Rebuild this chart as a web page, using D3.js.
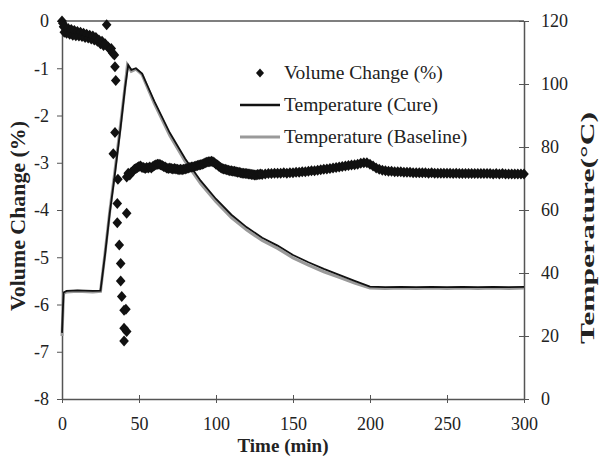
<!DOCTYPE html>
<html>
<head>
<meta charset="utf-8">
<script src="https://cdn.jsdelivr.net/npm/d3@7"></script>
<style>
body { margin: 0; background: #fff; }
text { font-family: "Liberation Serif", "Times New Roman", serif; fill: #222; }
</style>
</head>
<body>
<div id="canvas"></div>
<script>
"use strict"

let svgWidth = 599
let svgHeight = 457
let plotLeft = 62
let plotRight = 524
let plotTop = 21
let plotBottom = 399

/* tick labels */
let timeTicks = [0, 50, 100, 150, 200, 250, 300]
let volumeTicks = [0, -1, -2, -3, -4, -5, -6, -7, -8]
let tempTicks = [0, 20, 40, 60, 80, 100, 120]

/* temperature, cure run [time (min), °C] */
let tempCure = [
    [0, 21], [1, 33.8], [3, 34.3], [10, 34.5], [20, 34.3], [25, 34.4],
    [28, 46], [31, 59], [34, 70], [38, 86], [41, 99], [43, 106],
    [45, 104.5], [48, 105], [52, 103.3], [55, 100], [60, 94.5], [70, 84.5],
    [80, 76.3], [90, 69.3], [100, 63.5], [110, 58.5], [120, 54.5], [130, 51.2],
    [140, 48.7], [150, 45.7], [160, 43.4], [170, 41.3], [180, 39.4], [190, 37.5],
    [200, 35.7], [210, 35.5], [220, 35.6], [230, 35.5], [240, 35.6], [250, 35.5],
    [260, 35.6], [270, 35.5], [280, 35.6], [290, 35.5], [300, 35.6]
]

/* temperature, baseline run [time (min), °C] */
let tempBaseline = [
    [0, 20], [1, 33.5], [3, 34], [10, 34.2], [20, 34], [25, 34.2],
    [28, 46.5], [31, 59.5], [34, 71], [38, 87], [41, 99.5], [42.5, 106],
    [45, 104], [48, 104.7], [52, 103], [55, 99.5], [60, 93.8], [70, 83.6],
    [80, 75.4], [90, 68.4], [100, 62.6], [110, 57.6], [120, 53.6], [130, 50.3],
    [140, 47.8], [150, 44.8], [160, 42.5], [170, 40.4], [180, 38.6], [190, 36.8],
    [200, 35.2], [210, 35.1], [220, 35.2], [230, 35.1], [240, 35.2], [250, 35.1],
    [260, 35.2], [270, 35.1], [280, 35.2], [290, 35.1], [300, 35.2]
]

/* volume change [time (min), %] */
let volumeChange = [
    [0, 0], [0.5, -0.05], [1, -0.12], [1.5, -0.24], [2, -0.14], [3, -0.26], [4, -0.16],
    [5, -0.28], [6, -0.18], [7, -0.3], [8, -0.2], [9, -0.31], [10, -0.22], [11, -0.32],
    [12, -0.24], [13, -0.33], [14, -0.26], [15, -0.35], [16, -0.28], [17, -0.36], [18, -0.3],
    [19, -0.38], [20, -0.32], [21, -0.4], [22, -0.35], [23, -0.43], [24, -0.4], [25, -0.48],
    [26, -0.43], [27, -0.52], [28, -0.48], [29, -0.08], [30, -0.55], [31, -0.6], [32, -0.58],
    [33, -0.68], [34, -0.72], [34.4, -0.97], [34.9, -1.26], [34.4, -2.36], [33.3, -2.81],
    [36.3, -3.35], [35.9, -3.86], [42, -4.07], [35.9, -4.27], [37.2, -4.74], [38.1, -5.13],
    [38.1, -5.5], [38.8, -5.83], [40.3, -6.12], [41.5, -6.1], [40.3, -6.5], [42, -6.57],
    [40.3, -6.77], [42, -3.3], [43, -3.22],
    [44, -3.26], [45, -3.2], [46, -3.18], [47, -3.14], [48, -3.12], [49, -3.1], [50, -3.08],
    [51, -3.07], [52, -3.1], [53, -3.1], [54, -3.12], [55, -3.1], [56, -3.11], [57, -3.09],
    [58, -3.11], [59, -3.08], [60, -3.06], [61, -3.04], [62, -3.03], [63, -3.03], [64, -3.04],
    [65, -3.06], [66, -3.08], [67, -3.09], [68, -3.11], [69, -3.12], [70, -3.11], [71, -3.12],
    [72, -3.13], [73, -3.12], [74, -3.13], [75, -3.14], [76, -3.15], [77, -3.14], [78, -3.15],
    [79, -3.14], [80, -3.13], [81, -3.12], [82, -3.11], [83, -3.1], [84, -3.09], [85, -3.09],
    [86, -3.08], [87, -3.07], [88, -3.06], [89, -3.05], [90, -3.04], [91, -3.03], [92, -3.02],
    [93, -3.0], [94, -2.99], [95, -2.98], [96, -2.98], [97, -2.97], [98, -2.98], [99, -3.0],
    [100, -3.03], [101, -3.05], [102, -3.08], [103, -3.1], [104, -3.12], [105, -3.13],
    [106, -3.14], [107, -3.15], [108, -3.16], [109, -3.17], [110, -3.17], [111, -3.18],
    [112, -3.18], [113, -3.19], [114, -3.2], [115, -3.2], [116, -3.21], [117, -3.22],
    [118, -3.22], [119, -3.23], [120, -3.23], [121, -3.24], [122, -3.24], [123, -3.25],
    [124, -3.25], [125, -3.26], [126, -3.26], [127, -3.25], [128, -3.25], [129, -3.24],
    [130, -3.25], [132, -3.24], [134, -3.23], [136, -3.23], [138, -3.22], [140, -3.22],
    [142, -3.22], [144, -3.21], [146, -3.22], [148, -3.21], [150, -3.21], [152, -3.2],
    [154, -3.2], [156, -3.19], [158, -3.19], [160, -3.18], [162, -3.17], [164, -3.17],
    [166, -3.16], [168, -3.15], [170, -3.14], [172, -3.13], [174, -3.12], [176, -3.11],
    [178, -3.1], [180, -3.09], [182, -3.08], [184, -3.07], [186, -3.06], [188, -3.05],
    [190, -3.04], [192, -3.03], [194, -3.01], [196, -3.0], [198, -3.0], [200, -3.03],
    [202, -3.07], [204, -3.11], [206, -3.14], [208, -3.16], [210, -3.17], [212, -3.18],
    [214, -3.18], [216, -3.19], [218, -3.19], [220, -3.19], [222, -3.2], [224, -3.2],
    [226, -3.2], [228, -3.21], [230, -3.21], [232, -3.21], [234, -3.21], [236, -3.21],
    [238, -3.22], [240, -3.21], [242, -3.22], [244, -3.22], [246, -3.22], [248, -3.22],
    [250, -3.22], [252, -3.22], [254, -3.23], [256, -3.22], [258, -3.23], [260, -3.23],
    [262, -3.23], [264, -3.23], [266, -3.23], [268, -3.23], [270, -3.23], [272, -3.23],
    [274, -3.23], [276, -3.23], [278, -3.23], [280, -3.24], [282, -3.23], [284, -3.24],
    [286, -3.23], [288, -3.24], [290, -3.24], [292, -3.24], [294, -3.24], [296, -3.24],
    [298, -3.24], [300, -3.24]
]

let legendLabels = ["Volume Change (%)", "Temperature (Cure)", "Temperature (Baseline)"]

let axisColor = "#555"

let svg = d3.select("#canvas")
    .append("svg")
    .attr("width", svgWidth)
    .attr("height", svgHeight)

/* Scales */
let xScale = d3.scaleLinear()
    .domain([0, 300])
    .range([plotLeft, plotRight])

let yVolume = d3.scaleLinear()
    .domain([-8, 0])
    .range([plotBottom, plotTop])

let yTemp = d3.scaleLinear()
    .domain([0, 120])
    .range([plotBottom, plotTop])

/* top frame line */
svg.append("line")
    .attr("x1", plotLeft)
    .attr("x2", plotRight)
    .attr("y1", plotTop)
    .attr("y2", plotTop)
    .attr("stroke", axisColor)
    .attr("stroke-width", 1.5)

// plain hyphen for negatives, like the original
let plainFormat = function(d) { return String(d) }

function styleAxis(g) {
    g.select(".domain").attr("stroke", axisColor).attr("stroke-width", 1.5)
    g.selectAll(".tick line").attr("stroke", axisColor).attr("stroke-width", 1)
    g.selectAll(".tick text")
        .attr("font-family", "Liberation Serif")
        .attr("font-size", 18)
        .attr("fill", "#333")
}

/* x axis */
let xAxisG = svg.append("g")
    .attr("transform", "translate(0," + plotBottom + ")")
    .call(d3.axisBottom(xScale).tickValues(timeTicks).tickFormat(plainFormat)
        .tickSize(4).tickSizeOuter(0).tickPadding(14))
xAxisG.call(styleAxis)
xAxisG.selectAll(".tick line").attr("y1", -4).attr("y2", 4)

/* left axis */
let yLeftG = svg.append("g")
    .attr("transform", "translate(" + plotLeft + ",0)")
    .call(d3.axisLeft(yVolume).tickValues(volumeTicks).tickFormat(plainFormat)
        .tickSize(5).tickSizeOuter(0).tickPadding(8))
yLeftG.call(styleAxis)

/* right axis */
let yRightG = svg.append("g")
    .attr("transform", "translate(" + plotRight + ",0)")
    .call(d3.axisRight(yTemp).tickValues(tempTicks).tickFormat(plainFormat)
        .tickSize(5).tickSizeOuter(0).tickPadding(12))
yRightG.call(styleAxis)
yRightG.selectAll(".tick line").attr("x1", -5).attr("x2", 5)

/* temperature lines */
let tempLine = d3.line()
    .x(function(d) { return xScale(d[0]) })
    .y(function(d) { return yTemp(d[1]) })

svg.append("path")
    .datum(tempBaseline)
    .attr("d", tempLine)
    .attr("fill", "none")
    .attr("stroke", "#9a9a9a")
    .attr("stroke-width", 3)

svg.append("path")
    .datum(tempCure)
    .attr("d", tempLine)
    .attr("fill", "none")
    .attr("stroke", "#111")
    .attr("stroke-width", 1.8)

/* volume change diamonds */
let diamond = "M0,-5.5L4.8,0L0,5.5L-4.8,0Z"

svg.selectAll("path.vol")
    .data(volumeChange)
    .join("path")
    .attr("class", "vol")
    .attr("d", diamond)
    .attr("transform", function(d) {
        return "translate(" + xScale(d[0]) + "," + yVolume(d[1]) + ")"
    })
    .attr("fill", "#111")

/* legend */
let legendX = 260
let legendY = [73, 105, 137]

svg.append("path")
    .attr("d", "M0,-4.5L4,0L0,4.5L-4,0Z")
    .attr("transform", "translate(" + legendX + "," + legendY[0] + ")")
    .attr("fill", "#111")

svg.append("line")
    .attr("x1", legendX - 20).attr("x2", legendX + 20)
    .attr("y1", legendY[1]).attr("y2", legendY[1])
    .attr("stroke", "#111").attr("stroke-width", 2.5)

svg.append("line")
    .attr("x1", legendX - 20).attr("x2", legendX + 20)
    .attr("y1", legendY[2]).attr("y2", legendY[2])
    .attr("stroke", "#9a9a9a").attr("stroke-width", 3)

svg.selectAll("text.legend")
    .data(legendLabels)
    .join("text")
    .attr("class", "legend")
    .attr("x", legendX + 24)
    .attr("y", function(d, i) { return legendY[i] + 6 })
    .attr("font-size", 19.5)
    .attr("fill", "#333")
    .text(function(d) { return d })

/* axis titles */
svg.append("text")
    .attr("x", 283)
    .attr("y", 452)
    .attr("text-anchor", "middle")
    .attr("font-size", 19)
    .attr("font-weight", "bold")
    .text("Time (min)")

svg.append("text")
    .attr("transform", "translate(25,216) rotate(-90)")
    .attr("text-anchor", "middle")
    .attr("font-size", 20)
    .attr("font-weight", "bold")
    .attr("textLength", 190)
    .attr("lengthAdjust", "spacingAndGlyphs")
    .text("Volume Change (%)")

svg.append("text")
    .attr("transform", "translate(594,228) rotate(-90)")
    .attr("text-anchor", "middle")
    .attr("font-size", 18)
    .attr("font-weight", "bold")
    .attr("textLength", 232)
    .attr("lengthAdjust", "spacingAndGlyphs")
    .text("Temperature(°C)")
</script>
</body>
</html>
